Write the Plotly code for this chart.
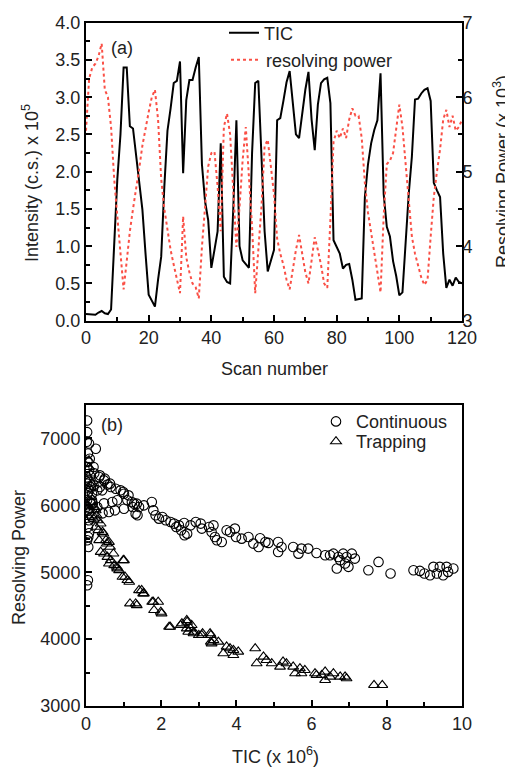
import plotly.graph_objects as go

# ---------------- Panel (a) data ----------------
scan = list(range(121))
tic = [0.09, 0.09, 0.08, 0.08, 0.11, 0.13, 0.10, 0.09, 0.15, 1.00,
       1.90, 2.50, 3.40, 3.40, 2.61, 2.58, 2.20, 1.85, 1.49, 0.90,
       0.35, 0.27, 0.19, 0.55, 0.86, 1.80, 2.55, 2.85, 3.19, 3.22,
       3.48, 1.98, 2.96, 3.23, 3.23, 3.40, 3.54, 2.10, 1.60, 1.35,
       0.71, 0.95, 1.20, 2.38, 0.59, 0.52, 0.50, 1.50, 2.69, 1.00,
       0.81, 0.76, 0.71, 2.25, 3.19, 3.22, 2.20, 1.20, 0.66, 0.80,
       0.95, 2.69, 2.72, 2.95, 3.20, 3.35, 2.90, 2.50, 2.45, 2.80,
       3.10, 3.34, 2.70, 2.29, 2.90, 3.19, 3.24, 3.26, 2.92, 1.08,
       1.00, 0.90, 0.70, 0.75, 0.76, 0.55, 0.28, 0.29, 0.30, 1.66,
       2.10, 2.38, 2.56, 2.69, 3.32, 1.70, 1.26, 1.13, 0.80, 0.60,
       0.34, 0.38, 1.10, 1.70, 2.20, 2.97, 2.98, 3.05, 3.10, 3.12,
       2.95, 1.85, 1.75, 1.66, 0.90, 0.44, 0.55, 0.47, 0.58, 0.52,
       0.50]
rp = [5.55, 6.25, 6.40, 6.45, 6.55, 6.72, 6.10, 6.00, 5.60, 4.90,
      4.40, 3.90, 3.42, 3.80, 4.20, 4.50, 4.75, 5.05, 5.35, 5.60,
      5.80, 6.00, 6.10, 5.70, 4.90, 4.50, 4.20, 3.95, 3.75, 3.55,
      3.37, 4.40, 3.85, 3.65, 3.50, 3.45, 3.30, 3.99, 4.53, 5.07,
      5.25, 5.27, 4.80, 4.20, 5.60, 5.78, 5.50, 4.80, 3.99, 4.53,
      5.16, 5.60, 5.00, 4.26, 3.37, 3.90, 4.53, 5.34, 5.43, 5.07,
      4.70, 4.10, 3.90, 3.75, 3.55, 3.42, 3.70, 3.95, 4.15, 3.90,
      3.65, 3.50, 3.85, 4.12, 3.95, 3.75, 3.50, 3.44, 4.35, 5.40,
      5.55, 5.45, 5.58, 5.45, 5.70, 5.85, 5.75, 5.75, 5.45, 4.85,
      4.45, 4.20, 3.90, 3.65, 3.38, 4.40, 5.10, 5.15, 5.25, 5.60,
      5.90, 5.60, 5.11, 4.53, 4.13, 3.90, 3.72, 3.58, 3.48, 3.55,
      4.13, 4.66, 5.00, 5.30, 5.70, 5.83, 5.60, 5.75, 5.55, 5.60,
      5.70]

# ---------------- Panel (b) data ----------------
cont_tic = [0.03, 0.03, 0.08, 0.26, 0.05, 0.10, 0.08, 0.20, 0.03, 0.22, 0.37, 0.35, 0.50, 0.48,
            0.64, 0.57, 0.03, 0.12, 0.37, 0.20, 0.16, 0.30, 0.43, 0.66, 0.79, 0.92, 0.99, 1.13,
            1.01, 0.83, 1.10, 1.22, 1.28, 1.35, 1.41, 1.54, 1.75, 0.61, 0.12, 0.08, 0.16, 0.30,
            0.48, 0.70, 1.01, 1.24, 1.32, 1.37, 0.77, 0.44, 0.18, 0.16,
            0.02, 0.04, 0.02, 0.05, 0.03, 0.02, 0.10,
            0.03, 0.05, 0.03, 0.05, 0.08, 0.06, 0.06, 0.08, 0.05,
            1.79, 1.85, 1.94, 2.03, 2.12, 2.25, 2.34, 2.47, 2.61, 2.69, 2.62, 2.53, 2.40, 2.78,
            2.92, 3.05, 3.08, 3.27, 3.34, 3.39, 3.48, 3.43, 3.61, 3.74, 3.83, 3.96, 3.99, 4.14,
            4.32, 4.45, 4.59, 4.63, 4.77, 4.85, 5.11, 5.11, 5.20, 5.51, 5.65, 5.73, 5.91, 6.13,
            6.36, 6.49, 6.58, 6.67, 6.71, 6.76, 6.84, 6.89, 6.93, 6.98, 7.07, 7.15, 7.51, 7.78,
            8.10, 8.71, 8.88, 9.00, 9.15, 9.24, 9.33, 9.41, 9.50, 9.59, 9.63, 9.77]
cont_rp = [7269, 7094, 6925, 6846, 6776, 6697, 6522, 6572, 6572, 6478, 6448, 6423, 6399, 6373,
           6324, 6310, 6324, 6273, 6274, 6299, 6174, 6224, 6224, 6273, 6249, 6224, 6199, 6149,
           6174, 6075, 6075, 6050, 6025, 6025, 5975, 6000, 6050, 5900, 6030, 5880, 5826, 5975,
           6030, 6050, 5950, 5975, 5876, 5851, 5925, 5880, 6025, 6075,
           6950, 6650, 6420, 6180, 6080, 5980, 6350,
           5478, 4881, 4806, 5677, 5582, 5378, 5527, 5776, 5925,
           5925, 5851, 5801, 5826, 5776, 5751, 5727, 5701, 5736, 5577, 5552, 5627, 5677, 5701,
           5751, 5727, 5652, 5677, 5602, 5701, 5478, 5527, 5452, 5627, 5602, 5652, 5527, 5502,
           5527, 5428, 5378, 5507, 5452, 5438, 5452, 5303, 5378, 5378, 5278, 5353, 5353, 5288,
           5253, 5253, 5278, 5055, 5228, 5179, 5278, 5130, 5228, 5080, 5278, 5204, 5030, 5154,
           4980, 5030, 5020, 4980, 4955, 5080, 4980, 5080, 4955, 5080, 5005, 5055]

trap_tic = [0.08, 0.08, 0.12, 0.16, 0.03, 0.05, 0.12, 0.08, 0.22, 0.26, 0.28, 0.08, 0.30, 0.39,
            0.26, 0.33, 0.44, 0.46, 0.53, 0.35, 0.61, 0.55, 0.64, 0.39, 0.48, 0.73, 0.57, 0.61,
            0.66, 0.75, 0.83, 0.88, 0.82, 1.01, 0.99, 0.97, 1.04, 1.10, 1.15, 1.41, 1.52, 1.48,
            1.54, 1.17, 1.32, 1.35, 1.76, 1.79, 1.92, 1.81, 1.99, 2.01, 2.21, 2.24, 2.52, 2.55,
            2.69, 2.68, 2.78, 2.81, 2.68, 2.87, 2.86, 3.00, 3.08, 3.10, 2.72, 3.30, 3.32, 3.39,
            3.52, 3.34, 3.32, 3.65, 3.74, 3.83, 3.92, 3.92, 4.05, 4.50, 4.54, 4.72, 4.80, 4.94,
            5.16, 5.24, 5.33, 5.51, 5.56, 5.69, 5.73, 5.82, 6.09, 6.13, 6.27, 6.36, 6.36, 6.49,
            6.58, 6.76, 6.89, 6.93, 7.66, 7.88,
            0.05, 0.10, 0.15, 0.20]
trap_rp = [6672, 6572, 6473, 6324, 6373, 6224, 6124, 5925, 5975, 5925, 5851, 5826, 5776, 5727,
           5677, 5627, 5602, 5577, 5478, 5478, 5452, 5428, 5378, 5303, 5278, 5278, 5228, 5129,
           5179, 5104, 5055, 5030, 5080, 5179, 5179, 4930, 4930, 4881, 4856, 4731, 4682, 4731,
           4682, 4532, 4532, 4507, 4557, 4557, 4557, 4433, 4408, 4383, 4184, 4184, 4209, 4234,
           4258, 4284, 4159, 4209, 4159, 4109, 4085, 4060, 4060, 4085, 4109, 4085, 4060, 3985,
           3960, 3935, 3960, 3786, 3886, 3861, 3836, 3761, 3811, 3861, 3637, 3736, 3687, 3637,
           3587, 3662, 3637, 3587, 3488, 3562, 3488, 3537, 3488, 3463, 3463, 3388, 3512, 3438,
           3488, 3438, 3438, 3413, 3313, 3313,
           6000, 6250, 6050, 5800]

FONT = "Liberation Sans, Arial, sans-serif"
OFF = 8          # page body margin
W, H = 513, 768  # figure size (overflows the window by OFF on the right/bottom)


def px(x):
    return (x - OFF) / W


def py(y):
    return 1 - (y - OFF) / H


XD = [px(86), px(462)]
YA = [py(320.7), py(22.7)]
YB = [py(706), py(405)]

fig = go.Figure()
fig.add_trace(go.Scatter(x=scan, y=tic, mode="lines", name="TIC", showlegend=True,
                         line=dict(color="black", width=2), xaxis="x", yaxis="y",
                         legend="legend"))
fig.add_trace(go.Scatter(x=scan, y=rp, mode="lines", name="resolving power", showlegend=True,
                         line=dict(color="rgb(250,80,70)", width=2, dash="dot"),
                         xaxis="x", yaxis="y2", legend="legend2"))
fig.add_trace(go.Scatter(x=cont_tic, y=cont_rp, mode="markers", name="Continuous", showlegend=True,
                         marker=dict(symbol="circle-open", size=9.5, color="black",
                                     line=dict(width=1.1)),
                         xaxis="x2", yaxis="y3", legend="legend3"))
fig.add_trace(go.Scatter(x=trap_tic, y=trap_rp, mode="markers", name="Trapping", showlegend=True,
                         marker=dict(symbol="triangle-up-open", size=9.5, color="black",
                                     line=dict(width=1.1)),
                         xaxis="x2", yaxis="y3", legend="legend4"))

tickf = dict(family=FONT, size=18, color="#222")
common = dict(showline=True, linewidth=2, linecolor="black", showgrid=False,
              zeroline=False, ticks="inside", ticklen=6, tickwidth=1.5,
              tickcolor="black", tickfont=tickf, automargin=False)
minor_style = dict(ticks="inside", ticklen=4, tickwidth=1.5, tickcolor="black", showgrid=False)


def leg(x, y):
    return dict(x=px(x), y=py(y), xanchor="left", yanchor="middle",
                bgcolor="rgba(0,0,0,0)", borderwidth=0,
                font=dict(family=FONT, size=18, color="#222"))


fig.update_layout(
    width=W, height=H, autosize=False, showlegend=True,
    margin=dict(l=0, r=0, t=0, b=0, pad=0),
    paper_bgcolor="white", plot_bgcolor="white",
    font=dict(family=FONT, size=18, color="#222"),
    xaxis=dict(domain=XD, anchor="y", range=[0, 120], dtick=20, mirror=True,
               minor=dict(dtick=10, **minor_style), **common),
    yaxis=dict(domain=YA, anchor="x", range=[0, 4], dtick=0.5, tickformat=".1f",
               minor=dict(dtick=0.25, **minor_style), **common),
    yaxis2=dict(overlaying="y", side="right", anchor="x", range=[3, 7], dtick=1,
                ticklabelstandoff=-5,
                minor=dict(dtick=0.5, **minor_style), **common),
    xaxis2=dict(domain=XD, anchor="y3", range=[0, 10], dtick=2, mirror=True,
                minor=dict(dtick=1, **minor_style), **common),
    yaxis3=dict(domain=YB, anchor="x2", range=[3000, 7500],
                tickvals=[3000, 4000, 5000, 6000, 7000], mirror=True,
                minor=dict(tickvals=[3500, 4500, 5500, 6500], **minor_style), **common),
    legend=leg(224, 33),
    legend2=leg(226, 60),
    legend3=leg(316, 421.7),
    legend4=leg(316, 441.7),
)

ann = [
    dict(text="(a)", x=px(122), y=py(48), xanchor="center", yanchor="middle"),
    dict(text="(b)", x=px(112), y=py(425), xanchor="center", yanchor="middle"),
    dict(text="Scan number", x=px(274), y=py(369), xanchor="center", yanchor="middle"),
    dict(text="TIC (x 10<sup>6</sup>)", x=px(275), y=py(755), xanchor="center", yanchor="middle"),
    dict(text="Intensity (c.s.) x 10<sup>5</sup>", x=px(30), y=py(183), textangle=-90,
         xanchor="center", yanchor="middle"),
    dict(text="Resolving Power (x 10<sup>3</sup>)", x=px(502), y=py(172), textangle=-90,
         xanchor="center", yanchor="middle"),
    dict(text="Resolving Power", x=px(19), y=py(558), textangle=-90,
         xanchor="center", yanchor="middle"),
]
for a in ann:
    fig.add_annotation(xref="paper", yref="paper", showarrow=False,
                       font=dict(family=FONT, size=18, color="#222"), **a)

fig.write_html("out.html")
